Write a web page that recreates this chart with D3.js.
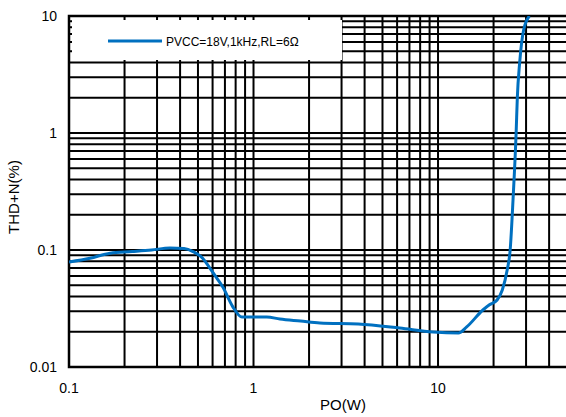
<!DOCTYPE html>
<html>
<head>
<meta charset="utf-8">
<script src="https://cdn.jsdelivr.net/npm/d3@7"></script>
<style>
  html, body { margin: 0; padding: 0; background: #fff; }
  svg { display: block; font-family: "Liberation Sans", Arial, sans-serif; }
</style>
</head>
<body>
<svg id="chart" width="566" height="417"></svg>
<script>
// output power (W) and THD+N (%)
const po = [0.1, 0.13, 0.167, 0.22, 0.28, 0.352, 0.42, 0.47, 0.53, 0.58, 0.63, 0.683,
  0.77, 0.866, 0.99, 1.18, 1.39, 1.8, 2.29, 3.7, 6.2, 9.4, 12.9, 14.3, 17.5, 19,
  20.9, 22.3, 23.7, 24.6, 25.5, 26.5, 26.9, 27.7, 29.1, 31.3];
const thd = [0.079, 0.085, 0.094, 0.097, 0.1, 0.104, 0.103, 0.097, 0.085, 0.07, 0.058, 0.048,
  0.033, 0.0267, 0.0267, 0.0268, 0.0257, 0.0247, 0.0238, 0.0233, 0.0215, 0.0199, 0.0195, 0.022, 0.0307, 0.034,
  0.0374, 0.0455, 0.0674, 0.1, 0.27, 1, 2, 4, 7.6, 10];

const xTickLabels = [0.1, 1, 10];
const yTickLabels = [0.01, 0.1, 1, 10];
const seriesName = "PVCC=18V,1kHz,RL=6Ω";

const svg = d3.select("#chart");
const m = { left: 69, right: 567, top: 16, bottom: 367 };

const x = d3.scaleLog().domain([0.1, 50]).range([m.left, m.right]);
const y = d3.scaleLog().domain([0.01, 10]).range([m.bottom, m.top]);

// grid: every 1..9 per decade
const xGrid = [];
[0.1, 1, 10].forEach(d => { for (let k = 1; k <= 9; k++) { const v = d * k; if (v <= 50) xGrid.push(v); } });
xGrid.push(50);
const yGrid = [];
[0.01, 0.1, 1].forEach(d => { for (let k = 1; k <= 9; k++) yGrid.push(d * k); });
yGrid.push(10);

const grid = svg.append("g").attr("stroke", "#000").attr("stroke-width", 2);
grid.selectAll(".gx").data(xGrid).enter().append("line")
  .attr("x1", d => x(d)).attr("x2", d => x(d))
  .attr("y1", m.top).attr("y2", m.bottom);
grid.selectAll(".gy").data(yGrid).enter().append("line")
  .attr("x1", m.left).attr("x2", m.right)
  .attr("y1", d => y(d)).attr("y2", d => y(d));

// legend box hides the grid, leaving small inward ticks
const lg = svg.append("g");
lg.append("rect")
  .attr("x", m.left + 3).attr("y", m.top + 4)
  .attr("width", 342 - m.left - 3).attr("height", 60 - m.top - 4)
  .attr("fill", "#fff");
lg.append("line")
  .attr("x1", 108).attr("x2", 162).attr("y1", 41).attr("y2", 41)
  .attr("stroke", "#0070C0").attr("stroke-width", 3);
lg.append("text")
  .attr("x", 166).attr("y", 45.5)
  .attr("font-size", "12px")
  .attr("fill", "#000")
  .text(seriesName);

// frame
svg.append("path")
  .attr("d", `M${m.right},${m.top}H${m.left}V${m.bottom}H${m.right}`)
  .attr("fill", "none").attr("stroke", "#000").attr("stroke-width", 2.5);

// curve
svg.append("clipPath").attr("id", "clip").append("rect")
  .attr("x", m.left).attr("y", m.top).attr("width", m.right - m.left).attr("height", m.bottom - m.top);

const line = d3.line()
  .x((d, i) => x(po[i]))
  .y(d => y(d))
  .curve(d3.curveMonotoneX);

svg.append("path")
  .datum(thd)
  .attr("clip-path", "url(#clip)")
  .attr("d", line)
  .attr("fill", "none")
  .attr("stroke", "#0070C0")
  .attr("stroke-width", 3)
  .attr("stroke-linejoin", "round");

// tick labels
svg.selectAll(".yl").data(yTickLabels).enter().append("text")
  .attr("x", 57).attr("y", d => y(d) + 5)
  .attr("text-anchor", "end")
  .attr("font-size", "14px")
  .text(d => d);
svg.selectAll(".xl").data(xTickLabels).enter().append("text")
  .attr("x", d => x(d)).attr("y", 393)
  .attr("text-anchor", "middle")
  .attr("font-size", "14px")
  .text(d => d);

// axis titles
svg.append("text")
  .attr("x", 343).attr("y", 410)
  .attr("text-anchor", "middle")
  .attr("font-size", "15px")
  .text("PO(W)");
svg.append("text")
  .attr("transform", "translate(19,197) rotate(-90)")
  .attr("text-anchor", "middle")
  .attr("font-size", "15px")
  .text("THD+N(%)");
</script>
</body>
</html>
